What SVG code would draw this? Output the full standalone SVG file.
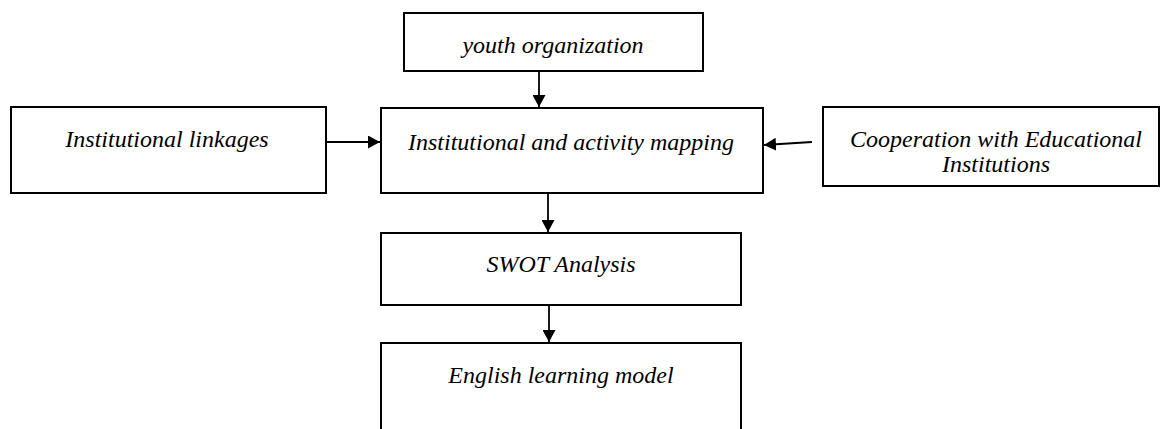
<svg xmlns="http://www.w3.org/2000/svg" width="1160" height="429" viewBox="0 0 1160 429">
<style>
.box{fill:#fff;stroke:#000;stroke-width:2}
.t{font-family:"Liberation Serif","Times New Roman",serif;font-style:italic;font-size:24px;fill:#000;text-anchor:middle}
.c{stroke:#000;stroke-width:1.8;fill:none}
</style>
<defs>
<marker id="ah" viewBox="0 0 12 13" refX="12" refY="6.5" markerWidth="12" markerHeight="13" markerUnits="userSpaceOnUse" orient="auto">
<path d="M0,0 L12,6.5 L0,13 Z" fill="#000"/>
</marker>
</defs>
<rect width="1160" height="429" fill="#fff"/>
<g id="youth">
<rect class="box" x="404" y="13" width="299" height="58"/>
<text class="t" x="553" y="53">youth organization</text>
</g>
<g id="mapping">
<rect class="box" x="381" y="108" width="382" height="85"/>
<text class="t" x="571" y="150">Institutional and activity mapping</text>
</g>
<g id="linkages">
<rect class="box" x="11" y="107" width="315" height="86"/>
<text class="t" x="167" y="147">Institutional linkages</text>
</g>
<g id="cooperation">
<rect class="box" x="823" y="107" width="336" height="79"/>
<text class="t" x="996" y="147">Cooperation with Educational</text>
<text class="t" x="996" y="172">Institutions</text>
</g>
<g id="swot">
<rect class="box" x="381" y="233" width="360" height="72"/>
<text class="t" x="561" y="272">SWOT Analysis</text>
</g>
<g id="english">
<rect class="box" x="381" y="343" width="360" height="100"/>
<text class="t" x="561" y="383">English learning model</text>
</g>
<g id="connectors">
<line class="c" x1="539" y1="71" x2="539" y2="107" marker-end="url(#ah)"/>
<line class="c" x1="326" y1="142" x2="380" y2="142" marker-end="url(#ah)"/>
<line class="c" x1="812" y1="142" x2="764" y2="145" marker-end="url(#ah)"/>
<line class="c" x1="548" y1="193" x2="548" y2="232" marker-end="url(#ah)"/>
<line class="c" x1="549" y1="305" x2="549" y2="342" marker-end="url(#ah)"/>
</g>
</svg>
